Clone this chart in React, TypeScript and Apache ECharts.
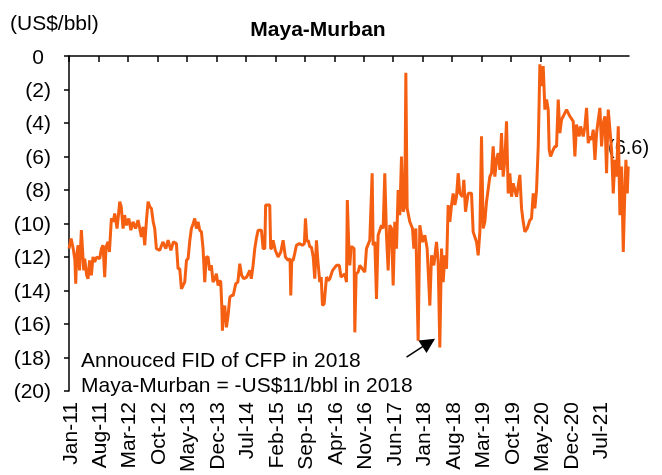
import React, { useEffect, useRef } from 'react';
import * as echarts from 'echarts';

// Months elapsed since Jan-2011 (x) and Maya-Murban spread in US$/bbl (y)
const monthIndex = [
  0.0, 0.5, 1.0, 1.4, 1.6, 1.8, 2.15, 2.5, 2.94, 3.2, 3.5, 3.73, 4.2, 4.52, 4.9, 5.31, 5.7, 6.1, 6.6, 7.29,
  7.7, 8.09, 8.48, 8.8, 9.27, 9.6, 10.07, 10.5, 10.86, 11.41, 11.7, 12.05, 12.4, 12.84, 13.2, 13.63, 14.2, 14.7, 15.21, 15.8,
  16.4, 16.8, 17.19, 17.6, 17.99, 18.4, 18.78, 19.2, 19.57, 20.0, 20.36, 20.76, 21.55, 22.3, 23.0, 23.53, 24.2, 24.8, 25.51, 25.9,
  26.3, 26.7, 27.1, 27.49, 27.9, 28.28, 28.7, 29.07, 29.5, 29.86, 30.26, 30.66, 31.05, 31.45, 31.84, 32.24, 32.6, 33.03, 33.4, 33.82,
  34.2, 34.62, 35.0, 35.41, 35.8, 36.04, 36.3, 36.44, 36.7, 36.99, 37.39, 37.78, 38.2, 38.58, 39.0, 39.6, 40.1, 40.56, 41.0, 41.51,
  42.2, 42.93, 43.3, 43.72, 44.12, 44.5, 44.91, 45.7, 46.1, 46.5, 46.7, 47.68, 47.9, 48.08, 48.47, 49.0, 49.66, 50.3, 50.85, 51.4,
  52.04, 52.5, 52.67, 52.9, 53.23, 53.6, 54.02, 54.7, 55.45, 55.9, 56.16, 56.5, 56.79, 57.2, 57.58, 58.0, 58.37, 58.6, 58.77, 59.1,
  59.56, 59.9, 60.2, 60.6, 61.15, 61.6, 61.94, 62.6, 63.52, 64.2, 64.6, 65.11, 65.5, 65.9, 66.1, 66.4, 66.69, 67.0, 67.24, 67.7,
  67.88, 68.2, 68.67, 69.07, 70.26, 70.65, 71.44, 72.0, 72.23, 72.63, 73.03, 73.42, 74.21, 74.61, 75.0, 75.4, 75.8, 76.19, 76.6, 76.99,
  77.38, 77.78, 78.17, 78.57, 78.97, 79.36, 79.76, 80.0, 80.31, 80.94, 81.58, 81.9, 82.37, 82.92, 83.32, 83.96, 84.51, 85.06, 85.7, 86.1,
  86.65, 87.28, 87.68, 88.07, 88.47, 88.87, 89.26, 89.66, 90.05, 90.45, 90.85, 91.24, 91.64, 92.03, 92.43, 92.82, 93.46, 93.78, 94.17, 94.8,
  95.6, 95.99, 96.79, 97.18, 97.58, 97.97, 98.37, 98.76, 99.16, 99.95, 100.35, 100.74, 101.14, 101.54, 101.93, 102.33, 102.72, 103.12, 103.52, 103.91,
  104.31, 104.7, 105.1, 105.5, 106.29, 107.08, 107.48, 107.87, 108.27, 108.82, 109.46, 109.85, 110.25, 110.64, 111.04, 111.44, 111.67, 111.83, 112.23, 112.62,
  112.78, 113.02, 113.42, 113.81, 114.05, 114.37, 115.0, 115.4, 115.79, 116.19, 116.58, 116.98, 117.38, 118.17, 118.96, 119.75, 120.15, 120.54, 121.18, 121.5,
  122.13, 122.53, 122.92, 123.32, 123.72, 124.11, 124.51, 124.91, 125.3, 125.7, 126.09, 126.49, 126.88, 127.28, 127.67, 128.07, 128.47, 128.86, 129.26, 129.66,
  130.05, 130.45, 130.84, 131.24, 131.64, 132.03, 132.27, 132.59, 132.82,
];

const spread = [
  -11.5, -10.9, -11.5, -12.2, -13.6, -12.0, -11.3, -12.8, -10.4, -11.5, -12.8, -12.1, -13.1, -13.3, -12.2, -13.1, -12.0, -12.3, -12.0, -12.1,
  -11.5, -11.3, -13.2, -11.4, -11.1, -11.7, -9.7, -9.9, -9.4, -10.3, -9.6, -8.7, -9.0, -10.3, -9.5, -10.1, -9.7, -10.4, -9.9, -10.3,
  -9.8, -10.3, -10.8, -10.2, -11.3, -9.8, -8.7, -9.0, -9.1, -9.9, -10.3, -11.5, -11.6, -11.1, -11.5, -11.0, -11.6, -11.1, -11.2, -12.7,
  -12.7, -13.9, -13.7, -13.5, -12.2, -12.1, -11.0, -10.3, -10.0, -9.7, -10.3, -9.9, -10.4, -10.5, -11.5, -13.5, -12.0, -12.0, -12.8, -12.5,
  -13.5, -13.3, -13.0, -13.7, -13.4, -13.5, -15.0, -16.4, -15.2, -14.9, -16.2, -15.5, -14.4, -14.3, -14.3, -13.6, -13.5, -12.4, -13.1, -13.3,
  -13.2, -12.8, -13.3, -12.5, -11.5, -10.9, -10.4, -10.4, -11.5, -11.5, -8.9, -8.9, -11.5, -11.5, -11.0, -11.6, -12.0, -11.7, -11.0, -12.0,
  -12.2, -12.1, -14.3, -12.2, -12.2, -11.8, -11.3, -11.2, -11.3, -11.2, -9.7, -11.1, -11.0, -11.4, -11.4, -12.0, -13.3, -12.0, -11.0, -12.2,
  -13.5, -13.2, -14.9, -14.8, -13.2, -13.4, -13.3, -12.8, -12.5, -12.5, -13.2, -13.1, -13.0, -13.5, -8.6, -11.0, -12.5, -11.4, -11.4, -11.5,
  -16.5, -13.0, -12.9, -12.5, -12.9, -11.5, -11.0, -7.0, -11.3, -11.1, -14.5, -10.7, -10.1, -10.3, -7.0, -10.7, -12.8, -10.1, -10.3, -13.7,
  -9.9, -11.5, -8.0, -9.5, -6.0, -9.3, -8.9, -1.0, -9.1, -9.9, -10.3, -11.5, -10.3, -17.0, -10.1, -11.1, -10.7, -11.5, -14.9, -11.9,
  -12.5, -11.1, -12.3, -17.4, -11.5, -13.5, -11.9, -12.7, -8.9, -9.9, -8.9, -8.2, -8.9, -8.4, -7.0, -8.2, -8.4, -7.4, -9.3, -8.2,
  -8.2, -10.5, -11.1, -11.9, -10.5, -4.8, -10.3, -9.9, -8.7, -7.2, -7.0, -5.4, -7.2, -6.2, -5.8, -6.8, -4.6, -7.2, -6.2, -3.9,
  -8.2, -7.0, -8.4, -7.6, -8.4, -7.1, -9.1, -9.9, -10.5, -10.3, -9.8, -9.7, -8.2, -9.1, -8.0, -5.4, -2.6, -0.5, -1.8, -0.6,
  -1.6, -3.2, -2.6, -3.2, -5.6, -6.0, -5.6, -5.4, -5.4, -2.6, -4.6, -3.8, -3.6, -3.2, -3.6, -3.9, -6.0, -4.1, -4.8, -4.2,
  -4.8, -4.2, -3.1, -5.2, -4.8, -5.0, -4.4, -6.2, -4.6, -3.8, -3.1, -5.4, -4.0, -3.6, -7.0, -3.2, -4.4, -5.6, -8.2, -6.2,
  -7.2, -4.2, -9.5, -6.6, -11.7, -7.9, -6.2, -8.2, -6.6,
];

const xTickLabels = [
  'Jan-11', 'Aug-11', 'Mar-12', 'Oct-12', 'May-13', 'Dec-13', 'Jul-14', 'Feb-15', 'Sep-15',
  'Apr-16', 'Nov-16', 'Jun-17', 'Jan-18', 'Aug-18', 'Mar-19', 'Oct-19', 'May-20', 'Dec-20', 'Jul-21',
];
const xTickStep = 7; // months between ticks
const yTickLabels = ['0', '(2)', '(4)', '(6)', '(8)', '(10)', '(12)', '(14)', '(16)', '(18)', '(20)'];

const titleText = 'Maya-Murban';
const unitText = '(US$/bbl)';
const noteLines = ['Annouced FID of CFP in 2018', 'Maya-Murban = -US$11/bbl in 2018'];
// arrow start / end in data coordinates [month index, value]
const arrowFrom = [80.16, -17.98];
const arrowTo = [85.44, -17.12];

const FONT = '"Liberation Sans", Arial, Helvetica, sans-serif';
const LINE_COLOR = '#F45F12';

export default function App() {
  const ref = useRef<HTMLDivElement>(null);

  useEffect(() => {
    if (!ref.current) return;
    const chart = echarts.init(ref.current, null, { renderer: 'svg' });
    const data = monthIndex.map((m, i) => [m, spread[i]]);
    const last = spread[spread.length - 1];
    const lastLabel = `(${Math.abs(last).toFixed(1)})`;
    const tickValues = xTickLabels.map((_, i) => i * xTickStep);

    const axisLineStyle = { color: '#000', width: 1.5 };

    chart.setOption({
      animation: false,
      grid: { left: 69, right: 33, top: 56, bottom: 82, containLabel: false },
      xAxis: [
        {
          type: 'value',
          position: 'top',
          min: 0,
          max: 133,
          interval: xTickStep,
          axisLine: { show: true, onZero: false, lineStyle: axisLineStyle },
          axisTick: { show: true, inside: true, length: 6, lineStyle: axisLineStyle, customValues: tickValues },
          axisLabel: { show: false },
          splitLine: { show: false },
        },
        {
          type: 'value',
          position: 'bottom',
          min: 0,
          max: 133,
          interval: xTickStep,
          axisLine: { show: false, onZero: false },
          axisTick: { show: false },
          splitLine: { show: false },
          axisLabel: {
            rotate: 90,
            margin: 11,
            fontSize: 21,
            color: '#000',
            fontFamily: FONT,
            customValues: tickValues,
            formatter: (v: number) => xTickLabels[Math.round(v / xTickStep)] ?? '',
          },
        },
      ],
      yAxis: {
        type: 'value',
        min: -20,
        max: 0,
        interval: 2,
        axisLine: { show: true, lineStyle: axisLineStyle },
        axisTick: { show: true, length: 5, lineStyle: axisLineStyle },
        splitLine: { show: false },
        axisLabel: {
          margin: 18,
          fontSize: 21,
          color: '#000',
          fontFamily: FONT,
          formatter: (v: number) => {
            const i = Math.round(-v / 2);
            return i === 0 ? `{z|${yTickLabels[0]}}` : yTickLabels[i] ?? '';
          },
          rich: { z: { padding: [0, 7, 0, 0], fontSize: 21, fontFamily: FONT, color: '#000' } },
        },
      },
      series: [
        {
          type: 'line',
          xAxisIndex: 0,
          data,
          symbol: 'none',
          lineStyle: { color: LINE_COLOR, width: 3 },
          itemStyle: { color: LINE_COLOR },
          markLine: {
            silent: true,
            animation: false,
            label: { show: false },
            lineStyle: { color: '#000', width: 1.5, type: 'solid' },
            symbolSize: [15, 15],
            data: [[
              { coord: arrowFrom, symbol: 'none' },
              { coord: arrowTo, symbol: 'triangle' },
            ]],
          },
        },
      ],
      graphic: [
        {
          type: 'text', x: 10, y: 22,
          style: { text: unitText, fontSize: 21, fontFamily: FONT, fill: '#000', align: 'left', verticalAlign: 'middle' },
        },
        {
          type: 'text', x: 318, y: 28,
          style: { text: titleText, fontSize: 21, fontWeight: 'bold', fontFamily: FONT, fill: '#000', align: 'center', verticalAlign: 'middle' },
        },
        {
          type: 'text', x: 81, y: 359,
          style: { text: noteLines[0], fontSize: 21, fontFamily: FONT, fill: '#000', align: 'left', verticalAlign: 'middle' },
        },
        {
          type: 'text', x: 81, y: 384,
          style: { text: noteLines[1], fontSize: 21, fontFamily: FONT, fill: '#000', align: 'left', verticalAlign: 'middle' },
        },
        {
          type: 'text', x: 608, y: 147,
          style: { text: lastLabel, fontSize: 20, fontFamily: FONT, fill: '#000', align: 'left', verticalAlign: 'middle' },
        },
      ],
    });
    return () => chart.dispose();
  }, []);

  return <div ref={ref} style={{ position: 'fixed', left: 0, top: 0, width: 662, height: 475 }} />;
}
